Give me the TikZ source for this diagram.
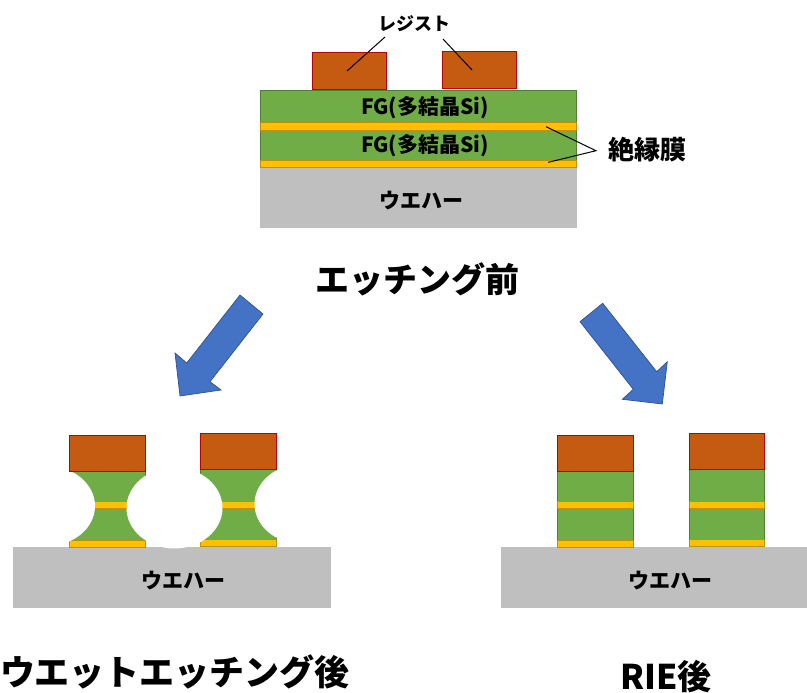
\documentclass[tikz,border=0pt]{standalone}
\usepackage{fontspec}
\setmainfont{Noto Sans CJK JP}
\definecolor{resistfill}{HTML}{C55A11}
\definecolor{resistline}{HTML}{C00000}
\definecolor{polyfill}{HTML}{70AD47}
\definecolor{polyline}{HTML}{507E32}
\definecolor{oxfill}{HTML}{FFC000}
\definecolor{oxline}{HTML}{BF9000}
\definecolor{wafergray}{HTML}{BFBFBF}
\definecolor{arrowfill}{HTML}{4472C4}
\definecolor{arrowline}{HTML}{2F528F}
\tikzset{
  resist/.style={fill=resistfill, draw=resistline, line width=1},
  poly/.style={fill=polyfill, draw=polyline, line width=0.7},
  oxide/.style={fill=oxfill, draw=oxline, line width=0.7},
  wafer/.style={fill=wafergray},
  etched/.style={fill=white},
  bigarrow/.style={fill=arrowfill, draw=arrowline, line width=0.7, line join=miter},
  leader/.style={draw=black, line width=1},
  lbl/.style={inner sep=0pt, font=\bfseries\fontsize{#1}{#1}\selectfont},
}
% one film stack: x0, x1, resist top, resist bottom, stripe top, stripe bottom, bottom-oxide top, bottom
\newcommand\filmstack[8]{%
  \path[poly] (#1,#4) rectangle (#2,#8);
  \path[oxide] (#1,#5) rectangle (#2,#6);
  \path[oxide] (#1,#7) rectangle (#2,#8);
}
\newcommand\resistcap[4]{\path[resist] (#1,#3) rectangle (#2,#4);}
\begin{document}
\begin{tikzpicture}[x=1pt,y=-1pt]
\useasboundingbox (0,0) rectangle (807,693);

% ---- before etching ----
\path[wafer] (259.5,167.7) rectangle (576.7,228.3);
\path[poly] (260,90) rectangle (576,167.7);
\path[oxide] (260,122.7) rectangle (576,130);
\path[oxide] (260,160) rectangle (576,167.7);
\path[resist] (312,53) rectangle (386.7,90);
\path[resist] (442.7,52) rectangle (516.7,89);

\node[lbl=18] (resistlbl) at (414,24) {レジスト};
\coordinate (rA) at (385,37);
\coordinate (rAend) at (347,71);
\coordinate (rB) at (443,39);
\coordinate (rBend) at (472,70);
\draw[leader] (rA) -- (rAend);
\draw[leader] (rB) -- (rBend);

\node[lbl=21] (fg1) at (425,108) {FG(多結晶Si)};
\node[lbl=21] (fg2) at (425,146) {FG(多結晶Si)};
\node[lbl=21] (wafer0) at (421.5,201) {ウエハー};

\node[lbl=26] (insul) at (647,150) {絶縁膜};
\coordinate (iapex) at (596,150.7);
\coordinate (ox1) at (546,126.7);
\coordinate (ox2) at (548.3,162.3);
\draw[leader, line join=miter] (ox1) -- (iapex) -- (ox2);

\node[lbl=34] (before) at (417.5,279) {エッチング前};

% ---- process arrows ----
\path[bigarrow] (240,295) -- (263,314) -- (210,381.7) -- (221,390) -- (180,396) -- (175,353) -- (186.7,363) -- cycle;
\path[bigarrow] (580,321.7) -- (602.7,303.3) -- (656.7,371.7) -- (667.3,361.7) -- (662.3,404) -- (622.3,399.3) -- (633.3,389.3) -- cycle;

% ---- after wet etching ----
\path[wafer] (12.7,547.2) rectangle (330.7,607.5);
\filmstack{69.3}{145}{435}{471}{501.7}{508.7}{540}{547}
\filmstack{200.7}{276}{433.3}{469.3}{501.5}{508.3}{539.3}{546.7}
% isotropic undercut
\path[etched] (47,506) ellipse [x radius=48, y radius=40];
\path[etched] (174.5,508) ellipse [x radius=48, y radius=40.5];
\path[etched] (302.5,504) ellipse [x radius=48, y radius=40];
\resistcap{69.3}{145}{435}{471}
\resistcap{200.7}{276}{433.3}{469.3}
\node[lbl=21] (wafer1) at (183,581) {ウエハー};
\node[lbl=35] (wetlbl) at (175,672) {ウエットエッチング後};

% ---- after RIE ----
\path[wafer] (501,547) rectangle (807,608);
\filmstack{557.7}{633.3}{435}{471.7}{501.7}{508.3}{540}{547.7}
\filmstack{689}{764.3}{433.3}{469.3}{501}{508.3}{539}{546.7}
\resistcap{557.7}{633.3}{435}{471.7}
\resistcap{689}{764.3}{433.3}{469.3}
\node[lbl=21] (wafer2) at (670.5,581) {ウエハー};
\node[lbl=34] (rielbl) at (666,677) {RIE後};
\end{tikzpicture}
\end{document}
